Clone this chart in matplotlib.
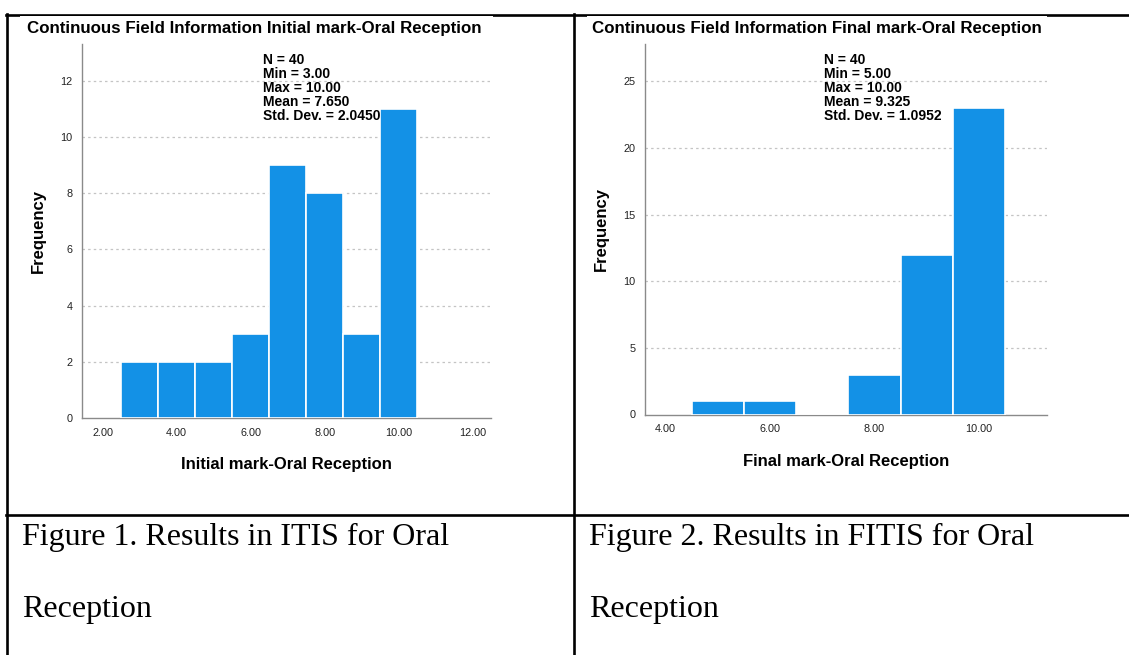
import matplotlib
matplotlib.use("Agg")
import matplotlib.pyplot as plt
from matplotlib.lines import Line2D
from matplotlib.patches import Rectangle

# histogram counts per mark (bins of width 1)
initial_marks = [3, 4, 5, 6, 7, 8, 9, 10]
initial_counts = [2, 2, 2, 3, 9, 8, 3, 11]
final_marks = [5, 6, 7, 8, 9, 10]
final_counts = [1, 1, 0, 3, 12, 23]

initial_stats = ["N = 40", "Min = 3.00", "Max = 10.00", "Mean = 7.650", "Std. Dev. = 2.0450"]
final_stats = ["N = 40", "Min = 5.00", "Max = 10.00", "Mean = 9.325", "Std. Dev. = 1.0952"]

initial_xticks = [2, 4, 6, 8, 10, 12]
initial_yticks = [0, 2, 4, 6, 8, 10, 12]
final_xticks = [4, 6, 8, 10]
final_yticks = [0, 5, 10, 15, 20, 25]

BAR = "#1391E6"
W, H = 1129, 655

plt.rcParams["font.family"] = ["Liberation Sans", "DejaVu Sans"]
fig = plt.figure(figsize=(W / 100, H / 100), dpi=100)


def fx(px):
    return px / W


def fy(py):
    return 1 - py / H


def hist_panel(rect, marks, counts, xticks, yticks, xlim, ylim, title, xlabel, stats, title_x, stats_x):
    ax = fig.add_axes(rect)
    ax.bar(marks, counts, width=1.0, color=BAR, edgecolor="white", linewidth=1.2, zorder=3)
    ax.set_xlim(*xlim)
    ax.set_ylim(*ylim)
    ax.set_xticks(xticks)
    ax.set_xticklabels([f"{v:.2f}" for v in xticks])
    ax.set_yticks(yticks)
    ax.tick_params(length=0, labelsize=7.8, colors="#222222", pad=7)
    for s in ("top", "right"):
        ax.spines[s].set_visible(False)
    for s in ("left", "bottom"):
        ax.spines[s].set_color("#8a8a8a")
        ax.spines[s].set_linewidth(1.0)
    for v in yticks[1:]:
        ax.axhline(v, color="#c4c4c4", lw=0.9, ls=(0, (2, 2.5)), zorder=1)
    ax.set_xlabel(xlabel, fontsize=12, fontweight="bold", labelpad=14)
    ax.set_ylabel("Frequency", fontsize=12, fontweight="bold", labelpad=10)
    fig.text(fx(title_x), fy(29), title, fontsize=12.2, fontweight="bold", va="center", ha="left")
    for i, line in enumerate(stats):
        fig.text(fx(stats_x), fy(60 + 14 * i), line, fontsize=10, fontweight="bold",
                 va="center", ha="left", zorder=5)
    return ax


# white chart areas sit on top of the table's top rule
for x0, x1 in [(20, 493), (587, 1047)]:
    fig.add_artist(Rectangle((fx(x0), fy(500)), fx(x1 - x0), (500 - 15.5) / H,
                             transform=fig.transFigure, facecolor="white",
                             edgecolor="none", zorder=-1))

# table rules
rule = dict(color="black", lw=1.9, transform=fig.transFigure, zorder=-2)
fig.add_artist(Line2D([fx(6), 1], [fy(14.5), fy(14.5)], **rule))
fig.add_artist(Line2D([fx(6), 1], [fy(515), fy(515)], **rule))
fig.add_artist(Line2D([fx(7), fx(7)], [fy(14), 0], **rule))
fig.add_artist(Line2D([fx(574), fx(574)], [fy(14), 0], **rule))

hist_panel([fx(82), fy(418), fx(409), 374 / H], initial_marks, initial_counts,
           initial_xticks, initial_yticks, (1.44, 12.5), (0, 13.3),
           "Continuous Field Information Initial mark-Oral Reception",
           "Initial mark-Oral Reception", initial_stats, 27, 263)

hist_panel([fx(645), fy(414.5), fx(402), 370.5 / H], final_marks, final_counts,
           final_xticks, final_yticks, (3.61, 11.3), (0, 27.8),
           "Continuous Field Information Final mark-Oral Reception",
           "Final mark-Oral Reception", final_stats, 592, 824)

# captions under each chart
cap = dict(fontsize=23, family=["Liberation Serif", "DejaVu Serif"], va="center", ha="left")
fig.text(fx(22), fy(537), "Figure 1. Results in ITIS for Oral", **cap)
fig.text(fx(22), fy(609), "Reception", **cap)
fig.text(fx(589), fy(537), "Figure 2. Results in FITIS for Oral", **cap)
fig.text(fx(589), fy(609), "Reception", **cap)

fig.savefig("out.png", dpi=100, facecolor="white")
